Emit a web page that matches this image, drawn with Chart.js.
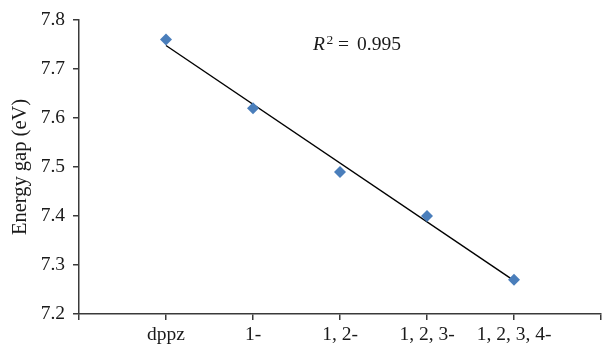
<!DOCTYPE html>
<html>
<head>
<meta charset="utf-8">
<script src="https://cdn.jsdelivr.net/npm/chart.js@4"></script>
<style>
  html, body { margin: 0; padding: 0; background: #fff; }
  #wrap { width: 602px; height: 346px; }
</style>
</head>
<body>
<div id="wrap"><canvas id="gapChart" width="602" height="346"></canvas></div>
<script>
// categories sit at positions 1..5 on the x axis (0 and 6 are empty slots)
const categories = ['dppz', '1-', '1, 2-', '1, 2, 3-', '1, 2, 3, 4-'];
const energyGap  = [7.76, 7.62, 7.49, 7.40, 7.27];
// trend line ends
const trendX     = [1, 5];
const trendY     = [7.748, 7.268];
const yTicks     = [7.2, 7.3, 7.4, 7.5, 7.6, 7.7, 7.8];
const r2Label    = '0.995';

const FONT  = "'Liberation Serif', 'DejaVu Serif', serif";
const AXIS  = '#3a3a3a';
const TEXT  = '#1a1a1a';
const BLUE  = '#4a7ebb';

// R² annotation
const r2Plugin = {
  id: 'r2',
  afterDraw(chart) {
    const ctx = chart.ctx;
    ctx.save();
    ctx.fillStyle = TEXT;
    ctx.textBaseline = 'alphabetic';
    ctx.font = `italic 19.5px ${FONT}`;
    ctx.fillText('R', 313, 50);
    ctx.font = `13.5px ${FONT}`;
    ctx.fillText('2', 326.5, 44);
    ctx.font = `19.5px ${FONT}`;
    ctx.fillText('=', 338, 50);
    ctx.fillText(r2Label, 357, 50);
    ctx.restore();
  }
};

new Chart(document.getElementById('gapChart'), {
  type: 'scatter',
  data: {
    datasets: [
      {
        label:           'Energy gap',
        data:            energyGap.map((v, i) => ({ x: i + 1, y: v })),
        pointStyle:      'rectRot',
        pointRadius:     6,
        backgroundColor: BLUE,
        borderColor:     BLUE,
        borderWidth:     0,
        order:           1,
      },
      {
        label:       'Trend',
        type:        'line',
        data:        trendX.map((x, i) => ({ x, y: trendY[i] })),
        borderColor: '#000',
        borderWidth: 1.4,
        pointRadius: 0,
        fill:        false,
        order:       2,
      },
    ],
  },
  options: {
    responsive: false,
    animation:  false,
    layout: { autoPadding: false, padding: { top: 20, right: 1, left: 0, bottom: 0 } },
    plugins: {
      legend:  { display: false },
      tooltip: { enabled: false },
    },
    scales: {
      x: {
        type: 'linear',
        min: 0,
        max: 6,
        afterFit: s => { s.height = 32; s.paddingLeft = 0; s.paddingRight = 0; },
        afterBuildTicks: s => { s.ticks = [0, 1, 2, 3, 4, 5, 6].map(v => ({ value: v })); },
        ticks: {
          autoSkip:    false,
          maxRotation: 0,
          padding:     3,
          color:       TEXT,
          font:        { family: FONT, size: 19.5 },
          callback:    v => categories[v - 1] ?? '',
        },
        grid:   { display: true, drawOnChartArea: false, drawTicks: true, tickLength: 6, color: AXIS, lineWidth: 1.5 },
        border: { display: true, color: AXIS, width: 1.5 },
      },
      y: {
        min: 7.2,
        max: 7.8,
        afterFit: s => { s.width = 79; },
        afterBuildTicks: s => { s.ticks = yTicks.map(v => ({ value: v })); },
        ticks: {
          padding:  8,
          color:    TEXT,
          font:     { family: FONT, size: 19.5 },
          callback: v => v.toFixed(1),
        },
        title: {
          display: true,
          text:    'Energy gap (eV)',
          color:   TEXT,
          font:    { family: FONT, size: 20.5 },
          padding: { top: 8, bottom: 0 },
        },
        grid:   { display: true, drawOnChartArea: false, drawTicks: true, tickLength: 6, color: AXIS, lineWidth: 1.5 },
        border: { display: true, color: AXIS, width: 1.5 },
      },
    },
  },
  plugins: [r2Plugin],
});
</script>
</body>
</html>
